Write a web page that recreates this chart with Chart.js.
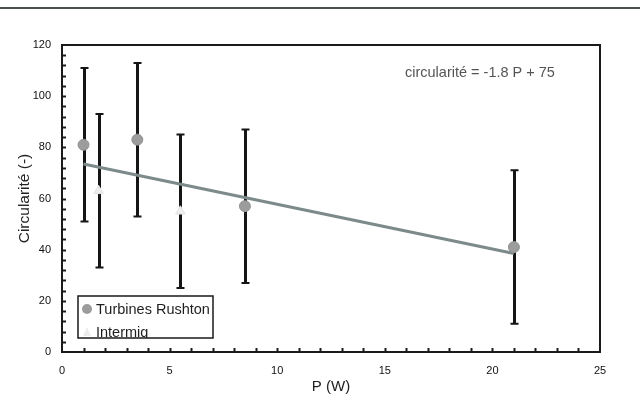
<!DOCTYPE html>
<html>
<head>
<meta charset="utf-8">
<script src="https://cdn.jsdelivr.net/npm/chart.js@4.4.1/dist/chart.umd.min.js"></script>
<style>
  html, body { margin: 0; padding: 0; background: #fff; }
  #wrap { position: relative; width: 640px; height: 414px; }
  #scan { position: absolute; left: 0; top: 7px; width: 640px; height: 2px; background: #4a4f4f; }
  canvas { position: absolute; left: 0; top: 0; }
</style>
</head>
<body>
<div id="wrap">
  <canvas id="c" width="640" height="414"></canvas>
  <div id="scan"></div>
</div>
<script>
// ---- data ----
const rushtonP   = [1, 3.5, 8.5, 21];
const rushtonC   = [81, 83, 57, 41];
const rushtonErr = [30, 30, 30, 30];

const intermigP   = [1.7, 5.5];
const intermigC   = [63, 55];
const intermigErr = [30, 30];

const trendP = [1, 21];
const trendC = [73.5, 38.5];

const xTicks = [0, 5, 10, 15, 20, 25];
const yTicks = [0, 20, 40, 60, 80, 100, 120];

const seriesNames = ['Turbines Rushton', 'Intermig'];
const equationText = 'circularité = -1.8 P + 75';
const xTitle = 'P (W)';
const yTitle = 'Circularité (-)';

const FONT = '"Liberation Sans", Arial, sans-serif';

const toPts = (xs, ys) => xs.map((v, i) => ({ x: v, y: ys[i] }));

const decor = {
  id: 'decor',
  beforeDatasetsDraw(chart) {
    const { ctx, scales: { x, y } } = chart;
    ctx.save();
    ctx.strokeStyle = '#151515';
    const bar = (p, c, e) => {
      const X = Math.round(x.getPixelForValue(p)) + 0.5;
      const Y1 = y.getPixelForValue(c + e);
      const Y2 = y.getPixelForValue(c - e);
      ctx.lineWidth = 3;
      ctx.beginPath(); ctx.moveTo(X, Y1); ctx.lineTo(X, Y2); ctx.stroke();
      ctx.lineWidth = 2;
      ctx.beginPath();
      ctx.moveTo(X - 4, Y1); ctx.lineTo(X + 4, Y1);
      ctx.moveTo(X - 4, Y2); ctx.lineTo(X + 4, Y2);
      ctx.stroke();
    };
    rushtonP.forEach((p, i) => bar(p, rushtonC[i], rushtonErr[i]));
    intermigP.forEach((p, i) => bar(p, intermigC[i], intermigErr[i]));
    ctx.restore();
  },
  afterDraw(chart) {
    const { ctx, chartArea: a, scales: { x, y } } = chart;
    ctx.save();
    // frame
    ctx.strokeStyle = '#1a1a1a';
    ctx.lineWidth = 2;
    ctx.strokeRect(a.left, a.top, a.right - a.left, a.bottom - a.top);
    // minor ticks (inward)
    ctx.lineWidth = 2;
    ctx.beginPath();
    for (let v = 4; v < 120; v += 4) {
      const Y = Math.round(y.getPixelForValue(v)) + 0.5;
      ctx.moveTo(a.left, Y); ctx.lineTo(a.left + 4, Y);
    }
    for (let v = 1; v < 25; v += 1) {
      const X = Math.round(x.getPixelForValue(v)) + 0.5;
      ctx.moveTo(X, a.bottom); ctx.lineTo(X, a.bottom - 4);
    }
    ctx.stroke();

    // equation annotation
    ctx.fillStyle = '#555';
    ctx.font = '14.5px ' + FONT;
    ctx.textAlign = 'left';
    ctx.textBaseline = 'middle';
    ctx.fillText(equationText, 405, 73);

    // legend box (inside plot, bottom-left)
    const L = 78, T = 296, R = 213, B = 338;
    ctx.fillStyle = '#fff';
    ctx.fillRect(L, T, R - L, B - T);
    ctx.save();
    ctx.beginPath(); ctx.rect(L, T, R - L, B - T); ctx.clip();
    // row 1
    ctx.fillStyle = '#9c9c9c';
    ctx.beginPath(); ctx.arc(87, 309, 5, 0, Math.PI * 2); ctx.fill();
    ctx.fillStyle = '#1e1e1e';
    ctx.font = '14.5px ' + FONT;
    ctx.textBaseline = 'alphabetic';
    ctx.fillText(seriesNames[0], 96, 314);
    // row 2
    ctx.fillStyle = '#ececec';
    ctx.beginPath(); ctx.moveTo(87, 327); ctx.lineTo(91, 336); ctx.lineTo(83, 336); ctx.closePath(); ctx.fill();
    ctx.fillStyle = '#1e1e1e';
    ctx.fillText(seriesNames[1], 96, 336.5);
    ctx.restore();
    ctx.strokeStyle = '#1a1a1a';
    ctx.lineWidth = 1.5;
    ctx.strokeRect(L, T, R - L, B - T);
    ctx.restore();
  }
};

new Chart(document.getElementById('c'), {
  type: 'scatter',
  data: {
    datasets: [
      {
        type: 'line',
        label: 'trend',
        data: toPts(trendP, trendC),
        borderColor: '#7d8a8a',
        borderWidth: 3,
        pointRadius: 0,
        fill: false,
        order: 3
      },
      {
        label: seriesNames[0],
        data: toPts(rushtonP, rushtonC),
        pointStyle: 'circle',
        pointRadius: 5.5,
        backgroundColor: '#9c9c9c',
        borderColor: '#8f9494',
        borderWidth: 1,
        order: 1
      },
      {
        label: seriesNames[1],
        data: toPts(intermigP, intermigC),
        pointStyle: 'triangle',
        pointRadius: 5.5,
        backgroundColor: '#eeeeee',
        borderColor: '#e4e4e4',
        borderWidth: 1,
        order: 2
      }
    ]
  },
  options: {
    responsive: false,
    animation: false,
    devicePixelRatio: 1,
    layout: { padding: { top: 45, right: 40, left: 0, bottom: 0 } },
    plugins: { legend: { display: false }, tooltip: { enabled: false } },
    scales: {
      x: {
        type: 'linear',
        min: 0, max: 25,
        afterBuildTicks: s => { s.ticks = xTicks.map(v => ({ value: v })); },
        afterFit: s => { s.height = 62; },
        grid: { display: false, drawTicks: false },
        border: { display: false },
        ticks: { color: '#111', font: { family: FONT, size: 11 }, padding: 12, maxRotation: 0 },
        title: { display: true, text: xTitle, color: '#222', font: { family: FONT, size: 15 }, padding: { top: 0, bottom: 18 } }
      },
      y: {
        type: 'linear',
        min: 0, max: 120,
        afterBuildTicks: s => { s.ticks = yTicks.map(v => ({ value: v })); },
        afterFit: s => { s.width = 62; },
        grid: { display: false, drawTicks: false },
        border: { display: false },
        ticks: { color: '#111', font: { family: FONT, size: 11 }, padding: 11 },
        title: { display: true, text: yTitle, color: '#222', font: { family: FONT, size: 15.5 }, padding: { top: 15, bottom: 0 } }
      }
    }
  },
  plugins: [decor]
});
</script>
</body>
</html>
